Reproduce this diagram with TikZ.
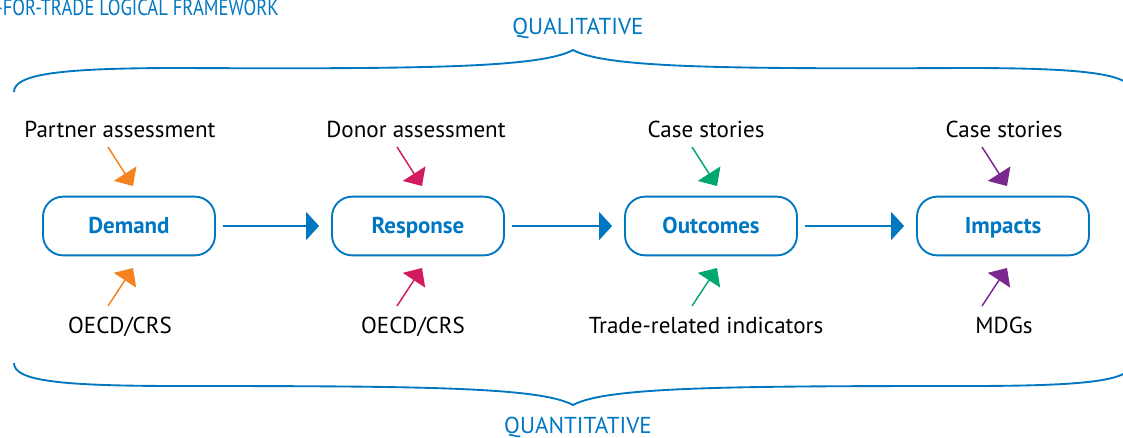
\documentclass[tikz,border=0pt]{standalone}
\usepackage{fontspec}
\setmainfont{PT Sans}
\newfontfamily\narrowfont[FakeStretch=0.82]{PT Sans}
\usetikzlibrary{arrows.meta}
\definecolor{aftblue}{RGB}{0,119,192}
\definecolor{aftorange}{RGB}{245,130,32}
\definecolor{aftmagenta}{RGB}{210,27,94}
\definecolor{aftgreen}{RGB}{0,168,112}
\definecolor{aftpurple}{RGB}{122,42,143}
\begin{document}
\begin{tikzpicture}[x=0.75pt,y=-0.75pt]
	\tikzstyle{stage}=[draw=aftblue,line width=1.4pt,rounded corners=15pt,minimum width=129pt,minimum height=44pt,text height=11.8pt,text depth=0pt,font=\fontsize{17.2}{20}\selectfont\bfseries,text=aftblue]
	\tikzstyle{source}=[anchor=base,inner sep=0pt,font=\fontsize{17.3}{20}\selectfont]
	\tikzstyle{heading}=[anchor=base,inner sep=0pt,font=\fontsize{17.3}{20}\selectfont,text=aftblue]
	\tikzstyle{flow}=[draw=aftblue,line width=1.4pt,shorten <=5pt,shorten >=9pt,-{Triangle[length=9.75pt,width=21pt,color=aftblue]}]
	\tikzstyle{feed}=[line width=1.1pt,-{Triangle[length=11pt,width=20pt]}]
	\tikzstyle{brace}=[draw=aftblue,line width=1.4pt]
	\clip (0,0) rectangle (1123,437);

	% title, cut off at the left edge
	\node [heading,anchor=base east,font=\narrowfont\fontsize{17}{20}\selectfont] (title) at (279,15) {-FOR-TRADE LOGICAL FRAMEWORK};

	\node [heading] (qual) at (578,34) {QUALITATIVE};
	\node [heading] (quant) at (578,433) {QUANTITATIVE};

	% braces
	\draw [brace] (14,92) .. controls (14,74) and (60,68) .. (180,68) .. controls (420,69) and (540,68) .. (573,50) .. controls (606,68) and (726,69) .. (966,68) .. controls (1086,68) and (1132,74) .. (1132,92);
	\draw [brace] (14,363) .. controls (14,381) and (60,386) .. (180,386) .. controls (420,386) and (540,387) .. (573,405) .. controls (606,387) and (726,386) .. (966,386) .. controls (1086,386) and (1132,381) .. (1132,363);

	% stages
	\node [stage] (demand) at (129,226) {Demand};
	\node [stage] (response) at (418,226) {Response};
	\node [stage] (outcomes) at (711,226) {Outcomes};
	\node [stage] (impacts) at (1003,226) {Impacts};

	\draw [flow] (demand) -- (response);
	\draw [flow] (response) -- (outcomes);
	\draw [flow] (outcomes) -- (impacts);

	% sources
	\node [source] (demandq) at (120,137) {Partner assessment};
	\node [source] (demandn) at (120,333) {OECD/CRS};
	\node [source] (responseq) at (416,137) {Donor assessment};
	\node [source] (responsen) at (413,333) {OECD/CRS};
	\node [source] (outcomesq) at (706,137) {Case stories};
	\node [source] (outcomesn) at (706,333) {Trade-related indicators};
	\node [source] (impactsq) at (1004,137) {Case stories};
	\node [source] (impactsn) at (1004,333) {MDGs};

	\coordinate (dq1) at (108,147); \coordinate (dq2) at (133,186);
	\coordinate (dn1) at (108,306); \coordinate (dn2) at (133,268);
	\coordinate (rq1) at (397,147); \coordinate (rq2) at (422,186);
	\coordinate (rn1) at (397,306); \coordinate (rn2) at (422,268);
	\coordinate (oq1) at (692,147); \coordinate (oq2) at (717,186);
	\coordinate (on1) at (692,306); \coordinate (on2) at (717,268);
	\coordinate (iq1) at (982,147); \coordinate (iq2) at (1007,186);
	\coordinate (in1) at (982,306); \coordinate (in2) at (1007,268);

	\draw [feed,draw=aftorange,fill=aftorange] (dq1) -- (dq2);
	\draw [feed,draw=aftorange,fill=aftorange] (dn1) -- (dn2);
	\draw [feed,draw=aftmagenta,fill=aftmagenta] (rq1) -- (rq2);
	\draw [feed,draw=aftmagenta,fill=aftmagenta] (rn1) -- (rn2);
	\draw [feed,draw=aftgreen,fill=aftgreen] (oq1) -- (oq2);
	\draw [feed,draw=aftgreen,fill=aftgreen] (on1) -- (on2);
	\draw [feed,draw=aftpurple,fill=aftpurple] (iq1) -- (iq2);
	\draw [feed,draw=aftpurple,fill=aftpurple] (in1) -- (in2);
\end{tikzpicture}
\end{document}
